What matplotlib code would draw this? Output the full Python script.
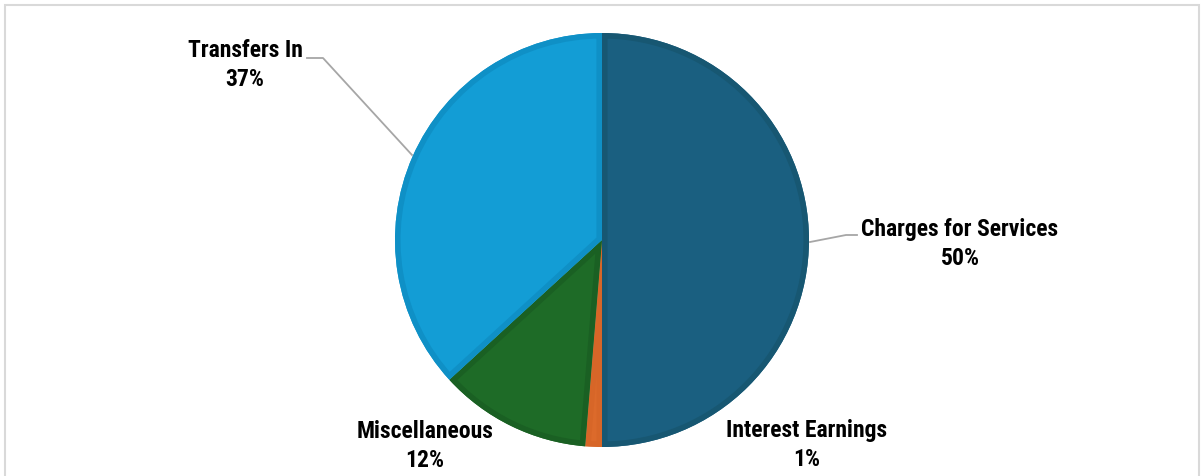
import matplotlib
matplotlib.use("Agg")
import matplotlib.pyplot as plt
import matplotlib.patches as patches
from matplotlib import font_manager

categorias = ["Charges for Services", "Interest Earnings", "Miscellaneous", "Transfers In"]
valores = [50.0, 1.3, 11.9, 36.8]
colores = ["#1a5f80", "#dc6a2b", "#1e6b27", "#139dd5"]
bordes = ["#175772", "#d4642692", "#1a6023", "#0f90c6"]

W, H = 1201, 476
disponibles = {f.name for f in font_manager.fontManager.ttflist}
candidatas = ["Roboto Condensed", "Liberation Sans Narrow", "Roboto", "Liberation Sans", "DejaVu Sans"]
familia = [f for f in candidatas if f in disponibles]

fig = plt.figure(figsize=(W / 100, H / 100), dpi=100)
ax = fig.add_axes([0, 0, 1, 1])

cx, cy, r = 602, H - 240, 207
wedges, _ = ax.pie(valores, colors=colores, startangle=90, counterclock=False,
                   center=(cx, cy), radius=r, wedgeprops=dict(linewidth=0))

# borde interior mas oscuro en cada porcion (trazo recortado a la propia porcion)
for w, c in zip(wedges, bordes):
    borde = patches.Wedge(w.center, w.r, w.theta1, w.theta2, facecolor="none",
                          edgecolor=c, linewidth=8)
    ax.add_patch(borde)
    borde.set_clip_path(w)

ax.set_xlim(0, W)
ax.set_ylim(0, H)
ax.set_aspect("equal")
ax.axis("off")

# etiquetas: nombre y porcentaje
posiciones = [(960, 244), (807, 445), (425, 446), (245, 65)]
for nombre, v, (px, py) in zip(categorias, valores, posiciones):
    ax.text(px, H - py, f"{nombre}\n{round(v):.0f}%", ha="center", va="center",
            fontsize=17, fontweight="bold", family=familia, linespacing=1.38,
            color="black")

# lineas guia
gris = "#a6a6a6"
ax.plot([412, 323, 307], [H - 155, H - 58, H - 58], color=gris, lw=1.3)
ax.plot([810, 846, 857], [H - 242, H - 235, H - 235], color=gris, lw=1.3)

# marco del grafico (el borde inferior queda fuera de la imagen)
ax.add_patch(patches.Rectangle((5, -10), W - 7, H - 5 + 10 - 5 + 5, fill=False,
                               edgecolor="#d9d9d9", linewidth=1.5, clip_on=False))

fig.savefig("out.png", dpi=100, facecolor="white")
